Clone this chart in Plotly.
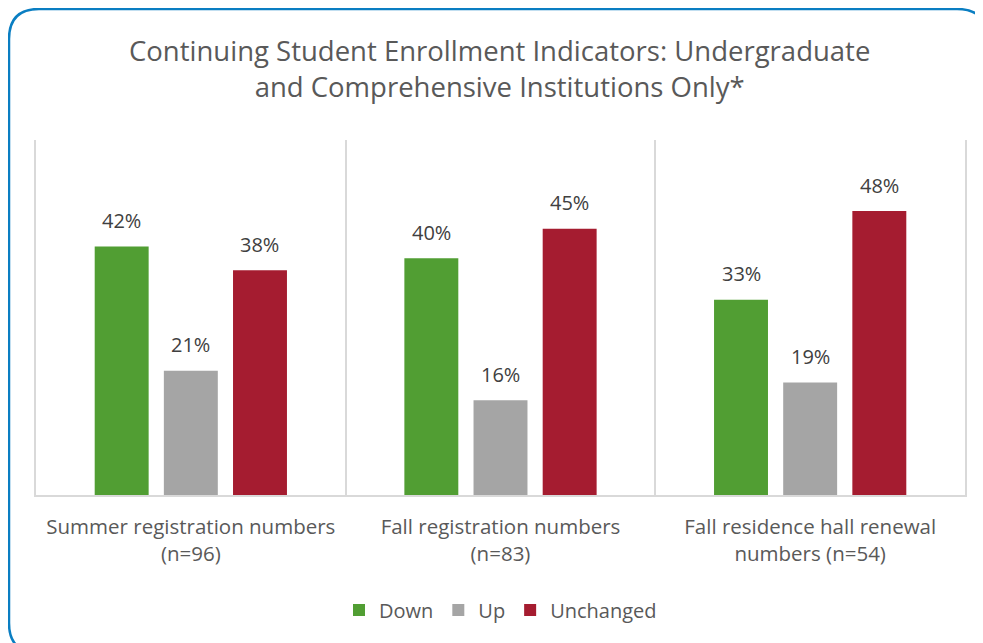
import plotly.graph_objects as go

categories = ["Summer registration numbers<br>(n=96)",
              "Fall registration numbers<br>(n=83)",
              "Fall residence hall renewal<br>numbers (n=54)"]
down = [42, 40, 33]
up = [21, 16, 19]
unchanged = [38, 45, 48]

# page is drawn with an 8px body margin, so lay out in figure px = page px - 8
W, H = 983, 643
ml, mr, mt, mb = 28, 26, 132, 156
pw, ph = W - ml - mr, H - mt - mb


def px(x):
    return (x - ml) / pw


def py(y):
    return (H - mb - y) / ph


# rounded frame around the whole chart (figure pixels -> paper units)
x0, y0, x1, y1, r = 1, 1, 979, 645, 30
frame = (
    f"M {px(x0 + r)},{py(y0)} L {px(x1 - r)},{py(y0)} "
    f"Q {px(x1)},{py(y0)} {px(x1)},{py(y0 + r)} L {px(x1)},{py(y1 - r)} "
    f"Q {px(x1)},{py(y1)} {px(x1 - r)},{py(y1)} L {px(x0 + r)},{py(y1)} "
    f"Q {px(x0)},{py(y1)} {px(x0)},{py(y1 - r)} L {px(x0)},{py(y0 + r)} "
    f"Q {px(x0)},{py(y0)} {px(x0 + r)},{py(y0)} Z"
)

font = "Open Sans, Lato, sans-serif"
txt = "#595959"
slot = 69  # px between neighbouring bars in a group

fig = go.Figure()
annotations = []
series = [("Down", down, "#519E33"), ("Up", up, "#A5A5A5"), ("Unchanged", unchanged, "#A51C30")]
for i, (name, vals, col) in enumerate(series):
    fig.add_trace(go.Bar(x=categories, y=vals, name=name, marker_color=col,
                         marker_line_width=0))
    for c, v in zip(categories, vals):
        annotations.append(dict(x=c, y=v, text=f"{v}%", showarrow=False,
                                xshift=(i - 1) * slot, yshift=26, yanchor="middle",
                                font=dict(size=20, color="#404040")))

annotations.append(dict(
    text="Continuing Student Enrollment Indicators: Undergraduate<br>and Comprehensive Institutions Only*",
    xref="paper", yref="paper", x=px(491), y=py(60), xanchor="center", yanchor="middle",
    showarrow=False, font=dict(size=27.5, color=txt)))

fig.update_layout(
    width=W, height=H,
    margin=dict(l=ml, r=mr, t=mt, b=mb),
    paper_bgcolor="white", plot_bgcolor="white",
    font=dict(family=font, color=txt),
    barmode="group", bargap=0.33, bargroupgap=0.22,
    showlegend=True,
    legend=dict(orientation="h", x=0.5, xanchor="center", y=py(602), yanchor="middle",
                font=dict(size=20, color=txt), itemwidth=30, tracegroupgap=0),
    xaxis=dict(tickson="boundaries", showgrid=True, gridcolor="#D9D9D9", gridwidth=1.5,
               ticks="", showline=True, linecolor="#D9D9D9", linewidth=1.5,
               mirror=False, ticklabelstandoff=13, tickfont=dict(size=20.5, color=txt)),
    yaxis=dict(range=[0, 60], showticklabels=False, showgrid=False, zeroline=False,
               ticks="", showline=True, mirror=True, linecolor="#D9D9D9", linewidth=1.5),
    annotations=annotations,
    shapes=[dict(type="path", xref="paper", yref="paper", path=frame,
                 line=dict(color="#0A7EC2", width=2.5), layer="above")],
)

fig.write_html("out.html")
